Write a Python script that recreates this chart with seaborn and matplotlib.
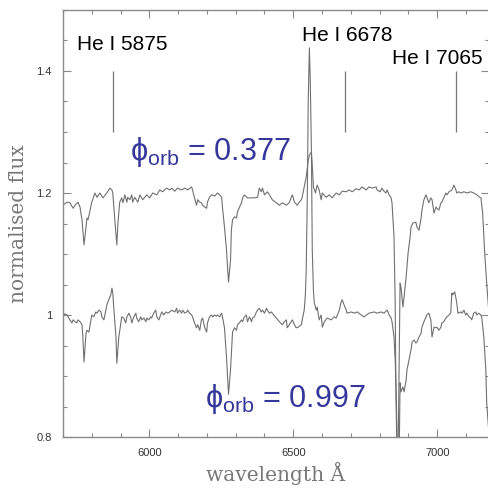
import matplotlib
matplotlib.use("Agg")
import matplotlib.pyplot as plt
import seaborn as sns
import numpy as np
import pandas as pd
from matplotlib.ticker import MultipleLocator, FuncFormatter

# ---------------- data ----------------
wl_upper = [5700, 5714, 5724, 5735, 5742, 5752, 5759, 5766, 5773, 5780, 5783, 5787, 5794, 5800,
            5811, 5818, 5828, 5839, 5852, 5863, 5870, 5873, 5880, 5887, 5891, 5897, 5904, 5908,
            5915, 5922, 5925, 5932, 5939, 5942, 5949, 5960, 5967, 5977, 5991, 6001, 6012, 6026,
            6036, 6046, 6060, 6071, 6078, 6088, 6098, 6112, 6123, 6133, 6147, 6150, 6157, 6164,
            6168, 6175, 6181, 6185, 6192, 6199, 6202, 6209, 6216, 6227, 6237, 6244, 6251, 6254,
            6261, 6268, 6275, 6282, 6285, 6289, 6296, 6303, 6306, 6320, 6324, 6330, 6341, 6355,
            6365, 6376, 6382, 6389, 6393, 6400, 6410, 6417, 6427, 6441, 6452, 6462, 6476, 6486,
            6493, 6497, 6504, 6514, 6521, 6528, 6531, 6538, 6545, 6552, 6556, 6563, 6566, 6570,
            6577, 6583, 6590, 6597, 6601, 6614, 6625, 6635, 6649, 6660, 6670, 6684, 6694, 6705,
            6718, 6729, 6739, 6753, 6763, 6774, 6788, 6791, 6802, 6808, 6815, 6822, 6826, 6833,
            6840, 6843, 6850, 6854, 6857, 6861, 6864, 6867, 6871, 6874, 6881, 6885, 6892, 6899,
            6906, 6909, 6916, 6926, 6930, 6937, 6944, 6947, 6954, 6961, 6964, 6971, 6978, 6982,
            6989, 6996, 6999, 7006, 7013, 7016, 7023, 7030, 7034, 7041, 7051, 7058, 7065, 7068,
            7075, 7082, 7093, 7103, 7117, 7127, 7138, 7148, 7152, 7158, 7165, 7172, 7179]
flux_upper = [1.180, 1.185, 1.184, 1.175, 1.180, 1.185, 1.177, 1.156, 1.115, 1.144, 1.159, 1.156, 1.172, 1.185,
              1.200, 1.193, 1.200, 1.192, 1.200, 1.208, 1.205, 1.200, 1.156, 1.115, 1.151, 1.185, 1.192, 1.184,
              1.197, 1.185, 1.193, 1.189, 1.197, 1.185, 1.193, 1.185, 1.197, 1.189, 1.197, 1.192, 1.200, 1.197,
              1.205, 1.202, 1.208, 1.205, 1.208, 1.203, 1.208, 1.205, 1.208, 1.205, 1.210, 1.205, 1.192, 1.180,
              1.189, 1.185, 1.184, 1.180, 1.177, 1.175, 1.185, 1.193, 1.197, 1.195, 1.200, 1.197, 1.193, 1.177,
              1.144, 1.107, 1.054, 1.090, 1.139, 1.156, 1.161, 1.159, 1.169, 1.184, 1.192, 1.197, 1.192, 1.192,
              1.192, 1.193, 1.208, 1.202, 1.208, 1.197, 1.202, 1.197, 1.189, 1.184, 1.180, 1.184, 1.180, 1.184,
              1.193, 1.197, 1.185, 1.180, 1.185, 1.189, 1.193, 1.210, 1.226, 1.254, 1.262, 1.267, 1.246, 1.210,
              1.200, 1.213, 1.205, 1.189, 1.200, 1.193, 1.197, 1.192, 1.200, 1.197, 1.203, 1.202, 1.205, 1.202,
              1.207, 1.205, 1.210, 1.205, 1.210, 1.208, 1.210, 1.205, 1.202, 1.208, 1.203, 1.200, 1.205, 1.197,
              1.192, 1.184, 1.128, 1.020, 0.861, 0.746, 0.762, 0.893, 1.052, 1.046, 1.013, 1.030, 1.062, 1.102,
              1.128, 1.144, 1.151, 1.152, 1.144, 1.139, 1.159, 1.172, 1.189, 1.197, 1.193, 1.184, 1.192, 1.189,
              1.167, 1.177, 1.175, 1.172, 1.184, 1.185, 1.192, 1.200, 1.197, 1.202, 1.205, 1.213, 1.205, 1.200,
              1.202, 1.200, 1.202, 1.200, 1.202, 1.200, 1.197, 1.193, 1.192, 1.167, 1.102, 1.052, 1.008]

wl_lower = [5700, 5707, 5714, 5724, 5731, 5735, 5742, 5748, 5752, 5759, 5766, 5769, 5773, 5780, 5783,
            5790, 5797, 5800, 5807, 5814, 5818, 5825, 5832, 5835, 5842, 5849, 5852, 5859, 5866, 5870,
            5873, 5877, 5884, 5887, 5894, 5901, 5904, 5911, 5918, 5922, 5929, 5936, 5939, 5946, 5953,
            5956, 5963, 5970, 5974, 5981, 5988, 5991, 5998, 6005, 6008, 6015, 6022, 6026, 6033, 6039,
            6043, 6050, 6057, 6064, 6071, 6078, 6088, 6095, 6098, 6105, 6112, 6116, 6123, 6130, 6133,
            6140, 6147, 6150, 6157, 6164, 6168, 6175, 6181, 6185, 6192, 6199, 6202, 6209, 6216, 6220,
            6227, 6233, 6237, 6244, 6251, 6254, 6261, 6268, 6275, 6282, 6285, 6289, 6296, 6303, 6306,
            6313, 6320, 6324, 6330, 6337, 6341, 6348, 6355, 6358, 6365, 6372, 6376, 6382, 6389, 6393,
            6400, 6407, 6410, 6417, 6424, 6427, 6441, 6452, 6462, 6469, 6476, 6479, 6486, 6493, 6497,
            6504, 6510, 6517, 6528, 6531, 6538, 6542, 6545, 6549, 6552, 6556, 6559, 6563, 6566, 6570,
            6573, 6580, 6583, 6590, 6597, 6601, 6608, 6618, 6632, 6642, 6649, 6660, 6666, 6670, 6677,
            6684, 6687, 6701, 6712, 6722, 6736, 6746, 6763, 6781, 6791, 6805, 6815, 6826, 6833, 6840,
            6843, 6850, 6854, 6857, 6861, 6864, 6867, 6871, 6874, 6881, 6885, 6892, 6895, 6902, 6909,
            6913, 6920, 6926, 6930, 6937, 6944, 6947, 6954, 6961, 6964, 6971, 6978, 6982, 6989, 6996,
            6999, 7006, 7013, 7016, 7023, 7030, 7034, 7041, 7047, 7051, 7054, 7061, 7068, 7072, 7082,
            7086, 7093, 7099, 7103, 7110, 7117, 7120, 7127, 7134, 7138, 7144, 7152, 7155, 7162, 7169,
            7172, 7179]
flux_lower = [0.997, 1.002, 1.000, 0.992, 0.987, 0.992, 0.989, 0.987, 0.992, 0.989, 0.984, 0.964, 0.923, 0.970, 0.975,
              0.972, 0.992, 1.000, 0.997, 1.005, 1.003, 1.008, 1.005, 0.997, 0.992, 1.008, 1.016, 1.025, 1.033, 1.044,
              1.036, 1.008, 0.964, 0.921, 0.964, 0.987, 0.997, 0.995, 0.987, 0.997, 1.003, 0.995, 0.987, 0.997, 1.003,
              0.995, 0.989, 0.997, 0.992, 0.995, 0.989, 0.995, 0.992, 0.997, 0.995, 1.003, 1.008, 0.997, 0.992, 1.000,
              1.005, 1.000, 1.005, 1.003, 1.005, 1.008, 1.005, 1.011, 1.003, 1.008, 1.003, 1.008, 1.003, 1.005, 1.008,
              1.003, 1.000, 0.997, 0.987, 0.979, 0.984, 0.975, 0.992, 0.995, 0.980, 0.972, 0.987, 0.997, 1.000, 0.997,
              1.000, 0.998, 1.000, 0.997, 1.003, 0.997, 0.979, 0.931, 0.870, 0.910, 0.938, 0.972, 0.979, 0.975, 0.984,
              0.987, 0.992, 0.989, 0.997, 1.000, 0.989, 0.997, 0.989, 0.995, 0.997, 1.005, 1.008, 1.011, 1.005, 1.008,
              1.003, 1.011, 1.008, 1.003, 1.005, 1.003, 0.995, 0.989, 0.984, 0.989, 0.992, 0.979, 0.984, 0.989, 0.992,
              0.984, 0.979, 0.980, 0.984, 0.992, 1.008, 1.033, 1.074, 1.205, 1.352, 1.438, 1.385, 1.270, 1.107, 1.041,
              1.020, 1.008, 1.013, 0.992, 1.000, 0.980, 0.989, 0.995, 0.992, 0.997, 0.995, 1.008, 1.021, 1.025, 1.016,
              1.008, 1.003, 1.005, 1.003, 1.005, 1.000, 0.997, 1.003, 1.005, 1.003, 1.005, 1.003, 1.008, 1.000, 0.995,
              0.989, 0.964, 0.926, 0.882, 0.795, 0.664, 0.730, 0.889, 0.874, 0.882, 0.874, 0.893, 0.910, 0.926, 0.943,
              0.956, 0.959, 0.954, 0.956, 0.964, 0.970, 0.980, 0.989, 0.997, 1.000, 1.003, 0.992, 0.964, 0.980, 0.979,
              0.980, 0.975, 0.980, 0.987, 0.989, 0.995, 0.997, 1.000, 1.003, 1.036, 1.033, 1.038, 1.020, 1.003, 1.005,
              1.003, 1.008, 1.000, 1.003, 0.997, 0.995, 0.992, 1.003, 1.005, 1.000, 1.003, 1.000, 0.995, 0.964, 0.910,
              0.856, 0.811]

line_ids = ["He I 5875", "He I 6678", "He I 7065"]
line_wl = [5875, 6678, 7065]
phase_labels = ["0.377", "0.997"]

# ---------------- style ----------------
sns.set_style("ticks")
plt.rcParams["font.family"] = ["Liberation Sans", "DejaVu Sans"]
plt.rcParams["mathtext.fontset"] = "custom"
plt.rcParams["mathtext.rm"] = "Liberation Sans"
plt.rcParams["mathtext.it"] = "Liberation Sans"

fig = plt.figure(figsize=(4.89, 4.90), dpi=100)
ax = fig.add_axes([63 / 489, 1 - 437 / 490, 1 - 63 / 489, (437 - 10) / 490])

df_u = pd.DataFrame({"wavelength": wl_upper, "flux": flux_upper})
df_l = pd.DataFrame({"wavelength": wl_lower, "flux": flux_lower})
spec_color = "#707070"
sns.lineplot(data=df_u, x="wavelength", y="flux", ax=ax, color=spec_color,
             linewidth=0.8, estimator=None, sort=False)
sns.lineplot(data=df_l, x="wavelength", y="flux", ax=ax, color=spec_color,
             linewidth=0.8, estimator=None, sort=False)

ax.set_xlim(5700, 7180)
ax.set_ylim(0.8, 1.5)

# marker lines for He I
ax.vlines(line_wl, 1.3, 1.4, color="#777777", linewidth=0.9)
ax.text(5748, 1.443, line_ids[0], fontsize=15, color="black", va="center", ha="left")
ax.text(6531, 1.459, line_ids[1], fontsize=15, color="black", va="center", ha="left")
ax.text(6843, 1.420, line_ids[2], fontsize=15, color="black", va="center", ha="left")

phi_color = "#35379a"
ax.text(5932, 1.254, "ϕ$_{\\mathrm{orb}}$ = " + phase_labels[0], fontsize=22,
        color=phi_color, va="baseline", ha="left")
ax.text(6192, 0.849, "ϕ$_{\\mathrm{orb}}$ = " + phase_labels[1], fontsize=22,
        color=phi_color, va="baseline", ha="left")

# ticks
ax.xaxis.set_major_locator(MultipleLocator(500))
ax.xaxis.set_minor_locator(MultipleLocator(100))
ax.yaxis.set_major_locator(MultipleLocator(0.2))
ax.yaxis.set_minor_locator(MultipleLocator(0.05))
ax.yaxis.set_major_formatter(FuncFormatter(lambda v, p: f"{v:g}"))
ax.tick_params(which="both", direction="in", top=True, right=True, color="#888888",
               labelsize=8, labelcolor="#333333")
ax.tick_params(which="major", length=6, width=0.8)
ax.tick_params(which="minor", length=3, width=0.8)
ax.tick_params(axis="y", pad=8)
ax.tick_params(axis="x", pad=8)
for s in ax.spines.values():
    s.set_visible(True)
    s.set_color("#8a8a8a")
    s.set_linewidth(1.0)

ax.set_xlabel("wavelength Å", fontsize=14.5, color="#777777", family="DejaVu Serif", labelpad=3)
ax.set_ylabel("normalised flux", fontsize=14.5, color="#777777", family="DejaVu Serif", labelpad=6)

fig.savefig("out.png", dpi=100)
